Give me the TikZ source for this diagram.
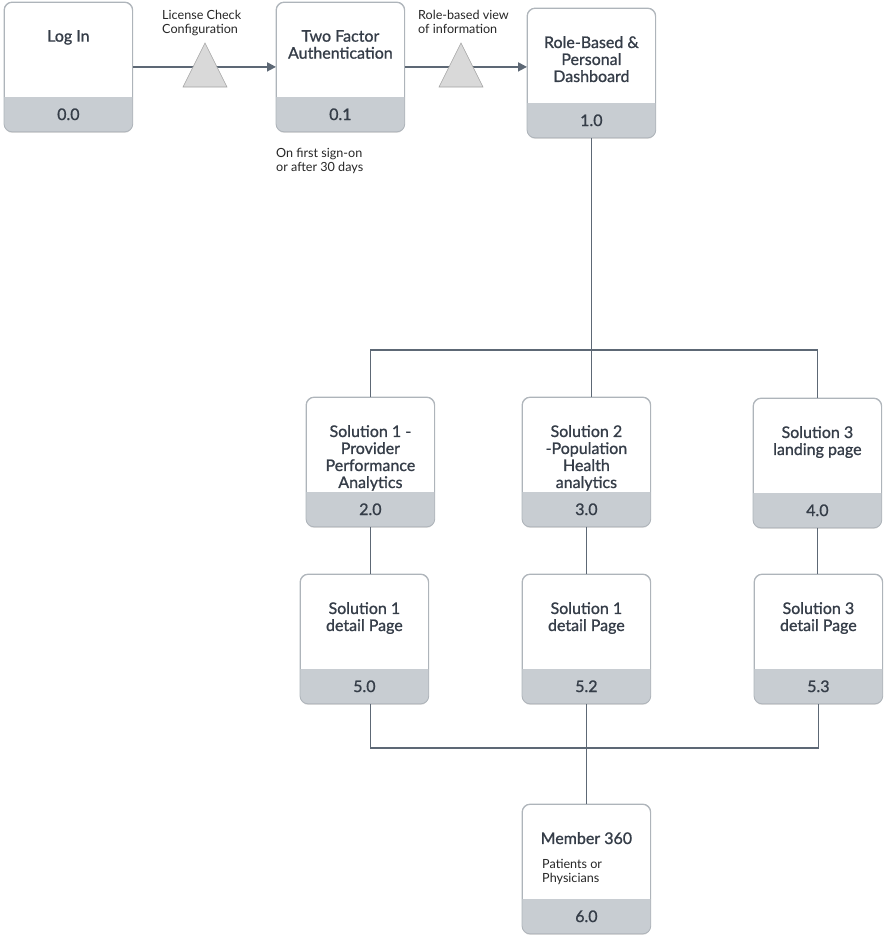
\documentclass[tikz,border=0pt]{standalone}
\usepackage{fontspec}
\setmainfont{Lato}
\newfontfamily\medfont{Lato}[FakeBold=1.0]
\usetikzlibrary{shadows,arrows.meta}
\definecolor{footc}{HTML}{C8CDD2}
\definecolor{bordc}{HTML}{AEB4BA}
\definecolor{linec}{HTML}{5D6875}
\definecolor{txtc}{HTML}{353D48}
\definecolor{trifill}{HTML}{D9D9D9}
\definecolor{tridraw}{HTML}{A3A3A3}
\tikzset{
  boxst/.style={rectangle, rounded corners=8pt, minimum width=128pt, minimum height=129pt, inner sep=0pt, fill=white, draw=bordc, line width=0.8pt,
    drop shadow={opacity=0.25, shadow xshift=0pt, shadow yshift=-1.5pt, fill=black!60}},
  titlest/.style={anchor=north, inner sep=0pt, align=center, text=txtc, font=\medfont\fontsize{16}{17}\selectfont},
  numst/.style={inner sep=0pt, text=txtc, font=\medfont\fontsize{16}{17}\selectfont},
  smallst/.style={anchor=west, inner sep=0pt, align=left, text=black!85, font=\fontsize{12.6}{14.5}\selectfont},
  conn/.style={draw=linec, line width=1.8pt},
  arr/.style={conn, -{Triangle[length=9pt,width=9pt]}},
  tri/.style={fill=trifill, draw=tridraw, line width=0.6pt}
}
\newcommand\pbox[5]{%
  \node[boxst, anchor=north west] (#1) at (#2,#3) {};
  \begin{scope}
    \clip[rounded corners=8pt] (#1.north west) rectangle (#1.south east);
    \fill[footc] ([yshift=35pt]#1.south west) rectangle (#1.south east);
  \end{scope}
  \draw[bordc, line width=0.8pt, rounded corners=8pt] (#1.north west) rectangle (#1.south east);
  \node[titlest] (#1t) at ([yshift=-28pt]#1.north) {#4};
  \node[numst] (#1n) at ([yshift=17.5pt]#1.south) {#5};
}
\begin{document}
\begin{tikzpicture}[x=1pt,y=-1pt]
\useasboundingbox (0,0) rectangle (887,938);

\pbox{login}{4}{2}{Log In}{0.0}
\pbox{tfa}{276}{2}{Two Factor\\Authentication}{0.1}
\pbox{dash}{527}{8}{Role-Based \&\\Personal\\Dashboard}{1.0}
\pbox{s1}{306}{397}{Solution 1 -\\Provider\\Performance\\Analytics}{2.0}
\pbox{s2}{522}{397}{Solution 2\\-Population\\Health\\analytics}{3.0}
\pbox{s3}{753}{398}{Solution 3\\landing page}{4.0}
\pbox{d1}{300}{574}{Solution 1\\detail Page}{5.0}
\pbox{d2}{522}{574}{Solution 1\\detail Page}{5.2}
\pbox{d3}{754}{574}{Solution 3\\detail Page}{5.3}
\pbox{m}{522}{804}{Member 360}{6.0}

\node[smallst, anchor=north west] (mnote) at (542,859) {Patients or\\Physicians};

% top arrows
\draw[arr] (login.east) -- (tfa.west);
\draw[arr] (tfa.east) -- (tfa.east -| dash.west);
\draw[tri] (205,43) -- (227,87) -- (183,87) -- cycle;
\draw[tri] (461,43) -- (483,87) -- (439,87) -- cycle;

\node[smallst, anchor=north west] (lab1) at (162,10) {License Check\\Configuration};
\node[smallst, anchor=north west] (lab2) at (418,10) {Role-based view\\of information};
\node[smallst, anchor=north west] (lab3) at (276,148) {On first sign-on\\or after 30 days};

% tree connectors
\coordinate (j1) at (589,350);
\coordinate (j2) at (587,748);
\draw[conn] (dash.south) -- (dash.south |- s2.north);
\draw[conn] (s1.north) |- (s3.north |- j1) -- (s3.north);
\draw[conn] (s1.south) -- (s1.south |- d1.north);
\draw[conn] (s2.south) -- (d2.north);
\draw[conn] (s3.south) -- (s3.south |- d3.north);
\draw[conn] (d1.south -| s1.south) |- (d3.south |- j2) -- (d3.south);
\draw[conn] (d2.south) -- (m.north);
\end{tikzpicture}
\end{document}
